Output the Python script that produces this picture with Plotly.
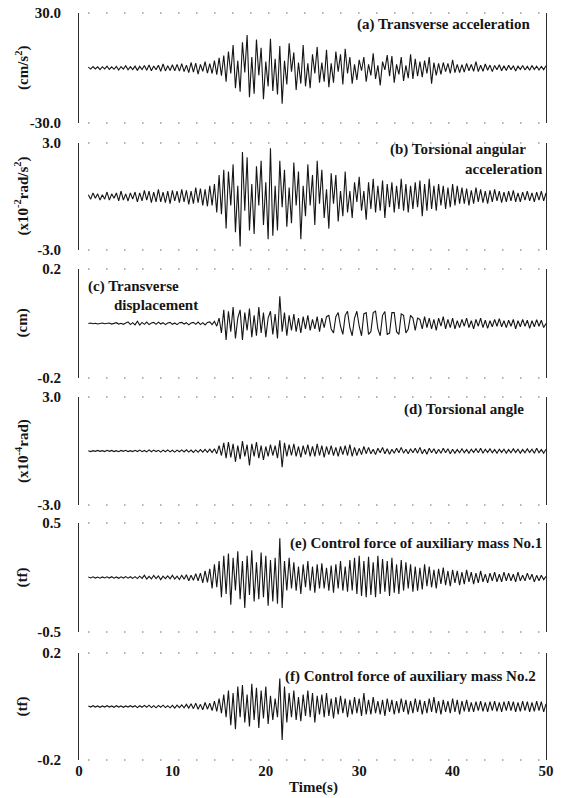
import numpy as np
import plotly.graph_objects as go

# ---------------- data ----------------
T_START = 1.0      # s, first sample
T_STEP = 0.25      # s, sampling step of the read-off values

# (a) transverse acceleration, cm/s^2
acc_transverse = [
    0.5, -0.6, 0.8, -0.5, 0.6, -0.9, 0.7, -0.5, 1.0, -0.8, 0.6, -0.7, 0.9, -1.1, 0.8, -0.6, 1.2, -1.0, 0.7, -0.9,
    1.0, -1.3, 0.9, -0.8, 1.4, -1.2, 1.6, -1.5, 1.1, -1.0, 1.5, -1.8, 2.2, -1.6, 1.2, -1.4, 1.8, -1.5, 2.0, -1.7,
    2.4, -2.0, 1.6, -2.5, 3.0, -2.2, 2.6, -3.4, 2.0, -1.8, 3.5, -2.8, 2.4, -3.0, 4.0, -3.6, 5.5, -4.2, 6.8, -7.5,
    9.0, -3.0, 12.5, -11.0, 4.0, -13.0, 14.0, -2.5, 18.0, -16.0, 6.0, -14.0, 15.5, -4.0, 11.0, -17.0, 3.5, -10.0, 16.0, -12.5,
    5.0, -14.5, 12.0, -19.5, 4.0, -9.0, 13.5, -2.0, 8.5, -12.0, 3.0, -8.5, 12.5, -10.0, 2.5, -11.0, 7.5, -3.0, 11.5, -8.0,
    3.0, -7.5, 10.0, -10.5, 2.5, -8.0, 9.0, -2.0, 7.5, -9.0, 10.5, -3.0, 6.0, -8.5, 2.0, -6.5, 4.5, -1.5, 6.0, -7.5,
    2.0, -4.0, 8.0, -6.0, 1.5, -9.5, 3.5, -1.0, 7.0, -4.5, 6.5, -8.0, 2.0, -3.5, 6.0, -7.0, 1.5, -5.5, 7.5, -6.0,
    5.0, -4.5, 3.5, -5.0, 4.0, -3.0, 6.0, -8.5, 3.0, -4.0, 2.5, -3.5, 3.0, -2.0, 2.5, -3.0, 4.5, -2.5, 2.0, -2.5,
    1.8, -2.2, 2.5, -1.5, 2.0, -1.8, 3.5, -2.0, 1.5, -1.8, 2.2, -1.2, 1.6, -2.0, 1.4, -1.0, 1.8, -1.5, 1.2, -1.4,
    1.5, -1.0, 1.2, -1.6, 1.0, -0.8, 1.4, -1.1, 0.9, -1.2, 1.3, -0.8, 1.0, -1.1, 0.8, -0.9, 1.2,
]

# (b) torsional angular acceleration, x10^-2 rad/s^2
acc_torsional = [
    0.1, -0.15, 0.2, -0.1, 0.15, -0.2, 0.1, -0.15, 0.25, -0.2, 0.15, -0.1, 0.2, -0.25, 0.3, -0.2, 0.15, -0.25, 0.2, -0.15,
    0.25, -0.3, 0.2, -0.25, 0.35, -0.2, 0.3, -0.35, 0.25, -0.3, 0.4, -0.3, 0.25, -0.35, 0.3, -0.4, 0.35, -0.25, 0.3, -0.35,
    0.4, -0.3, 0.35, -0.45, 0.3, -0.4, 0.5, -0.35, 0.45, -0.5, 0.4, -0.55, 0.6, -0.5, 0.7, -0.9, 1.2, -1.0, 1.5, -1.8,
    1.4, -0.5, 1.8, -2.0, 0.6, -2.8, 2.5, -0.8, 2.2, -1.9, 0.7, -2.1, 1.7, -0.5, 2.0, -1.6, 0.8, -2.4, 2.7, -2.2,
    0.6, -1.9, 2.0, -0.6, 1.5, -1.7, 0.5, -1.5, 1.9, -0.5, 1.4, -2.4, 0.6, -1.1, 1.8, -0.5, 1.2, -1.6, 2.0, -0.4,
    1.5, -1.2, 0.4, -1.8, 1.3, -0.4, 1.2, -1.4, 0.3, -1.1, 1.4, -0.9, 0.3, -1.2, 0.8, -0.3, 1.1, -0.8, 0.3, -1.3,
    0.8, -0.7, 1.0, -0.9, 0.6, -0.8, 0.9, -1.2, 0.7, -0.6, 0.8, -0.9, 0.6, -0.7, 1.0, -0.8, 0.7, -0.9, 0.6, -0.7,
    0.8, -0.6, 0.9, -1.1, 0.7, -0.8, 1.0, -0.7, 0.6, -0.8, 0.7, -0.5, 0.6, -0.7, 0.5, -0.6, 0.7, -0.5, 0.6, -0.4,
    0.5, -0.4, 0.45, -0.5, 0.35, -0.4, 0.5, -0.3, 0.4, -0.35, 0.3, -0.4, 0.35, -0.3, 0.4, -0.25, 0.3, -0.35, 0.25, -0.3,
    0.3, -0.25, 0.35, -0.3, 0.2, -0.3, 0.25, -0.2, 0.3, -0.25, 0.2, -0.3, 0.25, -0.2, 0.3, -0.25, 0.2,
]

# (c) transverse displacement, cm
disp_transverse = [
    0.0, 0.002, -0.001, 0.001, -0.002, 0.001, 0.002, -0.001, 0.0, 0.002, -0.002, 0.001, 0.003, -0.002, 0.001, -0.003, 0.002, 0.006, -0.004, 0.003,
    -0.005, 0.008, -0.006, 0.004, -0.003, 0.005, -0.004, 0.002, 0.004, -0.003, 0.005, -0.002, 0.003, -0.004, 0.002, 0.004, -0.003, 0.002, -0.004, 0.003,
    0.004, -0.002, 0.003, -0.005, 0.002, 0.004, -0.003, 0.005, -0.004, 0.003, -0.005, 0.004, 0.006, -0.004, 0.008, -0.01, 0.02, -0.035, 0.05, -0.06,
    0.045, -0.03, 0.06, -0.055, 0.02, 0.05, -0.06, 0.04, -0.025, 0.055, -0.05, 0.03, -0.045, 0.06, -0.035, 0.04, -0.05, 0.02, 0.045, -0.04,
    0.035, -0.055, 0.1, -0.03, 0.04, -0.045, 0.03, -0.025, 0.035, -0.03, 0.02, -0.035, 0.025, -0.02, 0.03, -0.025, 0.015, -0.02, 0.025, -0.03,
    0.02, -0.015, 0.025, 0.03, -0.02, -0.035, 0.025, 0.04, -0.01, -0.04, 0.03, 0.045, -0.015, -0.045, 0.02, 0.045, -0.01, -0.045, 0.035, 0.04,
    -0.04, -0.03, 0.04, 0.045, -0.02, -0.045, 0.03, 0.044, -0.04, -0.035, 0.04, 0.04, -0.03, -0.04, 0.035, 0.03, -0.035, -0.02, 0.03, 0.02,
    -0.025, 0.02, 0.015, -0.02, 0.025, -0.015, 0.02, -0.02, 0.015, -0.025, 0.02, -0.01, 0.025, -0.02, 0.015, -0.015, 0.02, -0.02, 0.01, -0.015,
    0.015, -0.01, 0.02, -0.015, 0.01, -0.02, 0.015, -0.01, 0.02, -0.015, 0.012, -0.018, 0.01, -0.012, 0.015, -0.01, 0.018, -0.012, 0.01, -0.015,
    0.012, -0.01, 0.015, -0.02, 0.01, -0.012, 0.015, -0.01, 0.012, -0.018, 0.01, -0.012, 0.014, -0.01, 0.012, -0.015, 0.0,
]

# (d) torsional angle, x10^-4 rad
angle_torsional = [
    0.02, -0.03, 0.02, -0.02, 0.03, -0.02, 0.02, -0.03, 0.04, -0.02, 0.03, -0.03, 0.02, -0.04, 0.03, -0.02, 0.04, -0.03, 0.02, -0.03,
    0.04, -0.03, 0.05, -0.04, 0.03, -0.05, 0.06, -0.04, 0.05, -0.03, 0.04, -0.06, 0.05, -0.04, 0.06, -0.05, 0.04, -0.06, 0.05, -0.04,
    0.06, -0.05, 0.07, -0.06, 0.05, -0.08, 0.06, -0.07, 0.08, -0.06, 0.09, -0.07, 0.1, -0.08, 0.12, -0.15, 0.3, -0.25, 0.45, -0.4,
    0.5, -0.35, 0.4, -0.6, 0.3, -0.45, 0.55, -0.3, 0.35, -0.8, 0.4, -0.3, 0.5, -0.4, 0.3, -0.5, 0.25, -0.3, 0.35, -0.25,
    0.3, -0.4, 0.6, -0.9, 0.45, -0.3, 0.35, -0.25, 0.4, -0.3, 0.25, -0.35, 0.3, -0.2, 0.35, -0.3, 0.25, -0.3, 0.4, -0.25,
    0.3, -0.35, 0.25, -0.2, 0.3, -0.25, 0.2, -0.3, 0.25, -0.2, 0.3, -0.25, 0.35, -0.3, 0.2, -0.25, 0.15, -0.2, 0.25, -0.15,
    0.2, -0.15, 0.1, -0.2, 0.15, -0.1, 0.2, -0.15, 0.12, -0.18, 0.1, -0.12, 0.15, -0.1, 0.2, -0.12, 0.1, -0.15, 0.12, -0.1,
    0.15, -0.12, 0.2, -0.15, 0.1, -0.18, 0.15, -0.1, 0.12, -0.15, 0.1, -0.12, 0.15, -0.1, 0.12, -0.15, 0.1, -0.12, 0.08, -0.1,
    0.12, -0.1, 0.08, -0.12, 0.1, -0.08, 0.12, -0.1, 0.15, -0.12, 0.1, -0.08, 0.12, -0.1, 0.08, -0.12, 0.1, -0.08, 0.1, -0.12,
    0.08, -0.1, 0.12, -0.08, 0.1, -0.12, 0.08, -0.1, 0.12, -0.08, 0.1, -0.12, 0.15, -0.1, 0.08, -0.12, 0.1,
]

# (e) control force of auxiliary mass No.1, tf
force_mass1 = [
    0.005, -0.004, 0.006, -0.005, 0.004, -0.006, 0.005, -0.004, 0.006, -0.005, 0.007, -0.006, 0.005, -0.007, 0.006, -0.005, 0.008, -0.006, 0.007, -0.008,
    0.008, -0.01, 0.012, -0.008, 0.02, -0.015, 0.01, -0.012, 0.018, -0.01, 0.015, -0.02, 0.012, -0.01, 0.015, -0.012, 0.02, -0.015, 0.012, -0.018,
    0.02, -0.015, 0.025, -0.03, 0.02, -0.025, 0.035, -0.03, 0.04, -0.05, 0.06, -0.045, 0.08, -0.1, 0.12, -0.09, 0.15, -0.18, 0.2, -0.15,
    0.22, -0.25, 0.18, -0.12, 0.24, -0.2, 0.15, -0.28, 0.2, -0.16, 0.25, -0.22, 0.14, -0.2, 0.23, -0.18, 0.2, -0.26, 0.16, -0.22,
    0.18, -0.24, 0.36, -0.28, 0.15, -0.12, 0.18, -0.1, 0.14, -0.12, 0.1, -0.15, 0.12, -0.09, 0.15, -0.12, 0.1, -0.14, 0.12, -0.1,
    0.13, -0.1, 0.09, -0.12, 0.11, -0.14, 0.12, -0.1, 0.15, -0.12, 0.1, -0.13, 0.16, -0.12, 0.18, -0.15, 0.2, -0.17, 0.15, -0.18,
    0.19, -0.16, 0.14, -0.18, 0.2, -0.15, 0.17, -0.13, 0.15, -0.17, 0.18, -0.14, 0.12, -0.15, 0.16, -0.12, 0.14, -0.1, 0.12, -0.13,
    0.1, -0.12, 0.09, -0.11, 0.12, -0.08, 0.1, -0.09, 0.07, -0.1, 0.08, -0.06, 0.09, -0.07, 0.06, -0.08, 0.07, -0.05, 0.06, -0.07,
    0.05, -0.06, 0.07, -0.04, 0.05, -0.06, 0.04, -0.05, 0.06, -0.04, 0.03, -0.05, 0.04, -0.03, 0.05, -0.04, 0.03, -0.04, 0.05, -0.03,
    0.04, -0.03, 0.03, -0.04, 0.05, -0.03, 0.02, -0.03, 0.04, -0.02, 0.03, -0.04, 0.02, -0.03, 0.02, -0.02, 0.01,
]

# (f) control force of auxiliary mass No.2, tf
force_mass2 = [
    0.002, -0.002, 0.003, -0.002, 0.002, -0.003, 0.002, -0.002, 0.003, -0.002, 0.002, -0.003, 0.003, -0.002, 0.002, -0.003, 0.002, -0.002, 0.003, -0.002,
    0.003, -0.004, 0.003, -0.003, 0.004, -0.003, 0.005, -0.004, 0.003, -0.005, 0.004, -0.003, 0.005, -0.004, 0.003, -0.005, 0.004, -0.006, 0.005, -0.004,
    0.006, -0.005, 0.008, -0.006, 0.01, -0.008, 0.012, -0.01, 0.008, -0.012, 0.015, -0.01, 0.012, -0.015, 0.02, -0.018, 0.03, -0.025, 0.045, -0.04,
    0.06, -0.07, 0.05, -0.085, 0.075, -0.04, 0.08, -0.06, 0.045, -0.075, 0.085, -0.05, 0.07, -0.08, 0.06, -0.045, 0.075, -0.065, 0.04, -0.05,
    0.03, -0.04, 0.105, -0.125, 0.075, -0.06, 0.05, -0.04, 0.06, -0.05, 0.035, -0.055, 0.045, -0.035, 0.06, -0.04, 0.05, -0.06, 0.04, -0.03,
    0.045, -0.04, 0.05, -0.035, 0.03, -0.045, 0.035, -0.03, 0.04, -0.025, 0.03, -0.04, 0.025, -0.03, 0.035, -0.025, 0.03, -0.035, 0.05, -0.03,
    0.025, -0.03, 0.035, -0.025, 0.02, -0.03, 0.025, -0.035, 0.03, -0.02, 0.025, -0.03, 0.02, -0.025, 0.03, -0.02, 0.025, -0.03, 0.02, -0.025,
    0.03, -0.02, 0.025, -0.03, 0.02, -0.025, 0.03, -0.02, 0.035, -0.025, 0.02, -0.03, 0.025, -0.02, 0.02, -0.025, 0.03, -0.02, 0.025, -0.03,
    0.02, -0.018, 0.025, -0.02, 0.015, -0.02, 0.018, -0.015, 0.02, -0.018, 0.015, -0.02, 0.018, -0.015, 0.02, -0.018, 0.015, -0.02, 0.018, -0.015,
    0.02, -0.015, 0.018, -0.02, 0.015, -0.018, 0.02, -0.015, 0.018, -0.02, 0.015, -0.018, 0.02, -0.015, 0.018, -0.02, 0.01,
]

series = [acc_transverse, acc_torsional, disp_transverse, angle_torsional, force_mass1, force_mass2]
y_limits = [30.0, 3.0, 0.2, 3.0, 0.5, 0.2]
y_limit_text = [("-30.0", "30.0"), ("-3.0", "3.0"), ("-0.2", "0.2"), ("-3.0", "3.0"), ("-0.5", "0.5"), ("-0.2", "0.2")]
y_titles = ["(cm/s<sup>2</sup>)", "(x10<sup>-2</sup>rad/s<sup>2</sup>)", "(cm)",
            "(x10<sup>-4</sup>rad)", "(tf)", "(tf)"]
x_ticks = [0, 10, 20, 30, 40, 50]

# ---------------- layout geometry ----------------
W, H = 562, 798
ML, MR, MT, MB = 79, 16, 13, 38
PW, PH = W - ML - MR, H - MT - MB


def px_x(x):
    return (x - ML) / PW


def px_y(y):
    return (H - MB - y) / PH


panel_px = [(13, 123), (143, 250), (269, 378), (397, 505), (523, 632), (653, 760)]

FONT = "Liberation Serif"
INK = "#151515"

fig = go.Figure()
shapes = []
annotations = []

for i, (vals, lim, (lo_t, hi_t), ttl, (ptop, pbot)) in enumerate(
        zip(series, y_limits, y_limit_text, y_titles, panel_px)):
    n = i + 1
    sfx = "" if n == 1 else str(n)
    t = T_START + T_STEP * np.arange(len(vals))
    fig.add_trace(go.Scatter(x=t, y=vals, mode="lines",
                             line=dict(color=INK, width=1.1),
                             xaxis="x" + sfx, yaxis="y" + sfx,
                             showlegend=False, hoverinfo="skip"))
    dom = [px_y(pbot), px_y(ptop)]
    last = (n == 6)
    fig.layout["xaxis" + sfx] = dict(
        domain=[0, 1], anchor="y" + sfx, range=[0, 50], automargin=False,
        showgrid=False, zeroline=False, showline=False,
        showticklabels=last, tickvals=x_ticks, ticks="",
        tickfont=dict(family=FONT, size=15, color=INK, weight="bold"),
        **({} if n == 1 else {"matches": "x"}))
    fig.layout["yaxis" + sfx] = dict(
        domain=dom, anchor="x" + sfx, range=[-lim, lim], automargin=False,
        showgrid=False, zeroline=False,
        showline=True, mirror=True, linecolor="#2a2a2a", linewidth=1,
        tickvals=[-lim, lim], ticktext=[lo_t, hi_t], ticks="",
        ticklabelstandoff=14,
        tickfont=dict(family=FONT, size=15, color=INK, weight="bold"))
    # dotted top / bottom borders
    for yy in (0, 1):
        shapes.append(dict(type="line", xref="x" + sfx + " domain", yref="y" + sfx + " domain",
                           x0=0.02, x1=1, y0=yy, y1=yy,
                           line=dict(color="#666666", width=1.3, dash="1px,17px")))
    # axis unit title
    annotations.append(dict(text=ttl, xref="paper", yref="paper",
                            x=px_x(22), y=(dom[0] + dom[1]) / 2,
                            xanchor="center", yanchor="middle", textangle=-90,
                            showarrow=False,
                            font=dict(family=FONT, size=15, color=INK, weight="bold")))

panel_labels = [
    ("(a) Transverse acceleration", 532, 25, "right"),
    ("(b) Torsional angular", 528, 150, "right"),
    ("acceleration", 545, 169, "right"),
    ("(c) Transverse", 86, 286, "left"),
    ("displacement", 112, 305, "left"),
    ("(d) Torsional angle", 526, 410, "right"),
    ("(e) Control force of auxiliary mass No.1", 544, 543, "right"),
    ("(f) Control force of auxiliary mass No.2", 538, 676, "right"),
]
for txt, xp, yp, anc in panel_labels:
    annotations.append(dict(text=txt, xref="paper", yref="paper",
                            x=px_x(xp), y=px_y(yp), xanchor=anc, yanchor="middle",
                            showarrow=False,
                            font=dict(family=FONT, size=15, color=INK, weight="bold")))

annotations.append(dict(text="Time(s)", xref="paper", yref="paper",
                        x=px_x(313), y=px_y(787), xanchor="center", yanchor="middle",
                        showarrow=False,
                        font=dict(family=FONT, size=15, color=INK, weight="bold")))

fig.update_layout(width=W, height=H,
                  margin=dict(l=ML, r=MR, t=MT, b=MB),
                  paper_bgcolor="white", plot_bgcolor="white",
                  shapes=shapes, annotations=annotations)

# remove the browser's default 8px page margin so the figure sits at (0, 0)
fig.write_html("out.html",
               config={"displayModeBar": False, "staticPlot": True},
               post_script="document.body.style.margin='0';document.body.style.overflow='hidden';")
